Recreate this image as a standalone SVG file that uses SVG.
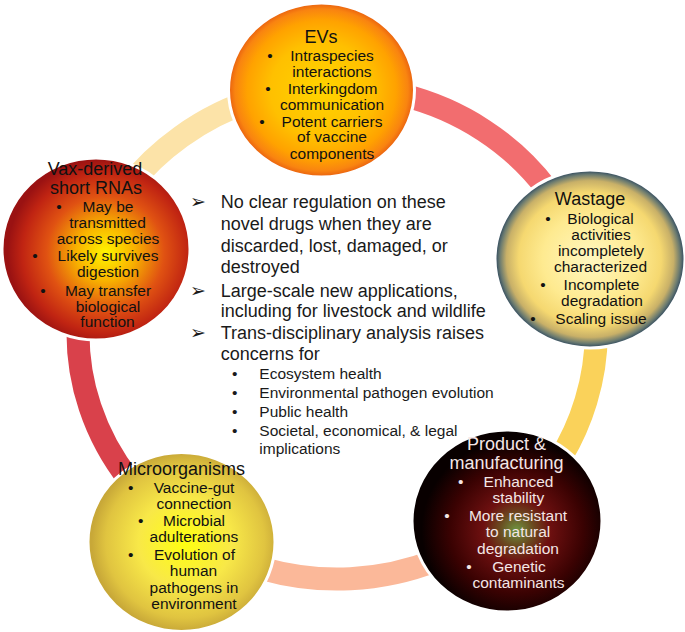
<svg xmlns="http://www.w3.org/2000/svg" width="685" height="632" viewBox="0 0 685 632">
<style>
.bg{fill:#ffffff}
.ring{fill:none;stroke-width:23;stroke-linecap:butt}
.node{stroke:#ffffff;stroke-width:3}
.t{font-family:"Liberation Sans",Arial,sans-serif;font-size:15.5px;fill:#111111;text-anchor:middle}
.h{font-family:"Liberation Sans",Arial,sans-serif;font-size:18px;fill:#111111;text-anchor:middle}
.w{fill:#f4e6e6}
.c{font-family:"Liberation Sans",Arial,sans-serif;font-size:18px;fill:#1a1a1a}
.s{font-family:"Liberation Sans",Arial,sans-serif;font-size:15.5px;fill:#1a1a1a}
.ar{font-family:"DejaVu Sans",sans-serif;font-size:19px;fill:#1a1a1a}
</style>
<defs>
<radialGradient id="gEV" cx="50%" cy="50%" r="50%">
<stop offset="0" stop-color="#FFD400"/>
<stop offset="0.55" stop-color="#FFC000"/>
<stop offset="0.8" stop-color="#FFA200"/>
<stop offset="0.93" stop-color="#F98410"/>
<stop offset="1" stop-color="#E85E10"/>
</radialGradient>
<radialGradient id="gVax" cx="55%" cy="52%" r="52%">
<stop offset="0" stop-color="#FFF500"/>
<stop offset="0.3" stop-color="#F8B200"/>
<stop offset="0.6" stop-color="#E05212"/>
<stop offset="0.85" stop-color="#C02412"/>
<stop offset="1" stop-color="#9A1212"/>
</radialGradient>
<radialGradient id="gWas" cx="50%" cy="50%" r="50%">
<stop offset="0" stop-color="#FFF7C0"/>
<stop offset="0.5" stop-color="#FEEA90"/>
<stop offset="0.75" stop-color="#F5D870"/>
<stop offset="0.88" stop-color="#C8B068"/>
<stop offset="0.95" stop-color="#6A7A70"/>
<stop offset="1" stop-color="#24405C"/>
</radialGradient>
<radialGradient id="gMic" cx="52%" cy="50%" r="50%">
<stop offset="0" stop-color="#FFFF10"/>
<stop offset="0.5" stop-color="#F8E848"/>
<stop offset="0.85" stop-color="#E0C440"/>
<stop offset="1" stop-color="#C8A838"/>
</radialGradient>
<radialGradient id="gPro" cx="55%" cy="55%" r="50%">
<stop offset="0" stop-color="#6E9440"/>
<stop offset="0.18" stop-color="#6A4A20"/>
<stop offset="0.35" stop-color="#6E1010"/>
<stop offset="0.7" stop-color="#3A0202"/>
<stop offset="1" stop-color="#080000"/>
</radialGradient>
</defs>
<rect class="bg" x="0" y="0" width="685" height="632"/>
<g id="connectors">
<path class="ring" stroke="#F26D6F" d="M 318.9 87.6 A 259 246 0 0 1 584.7 261.1"/>
<path class="ring" stroke="#FAD25A" d="M 584.7 261.1 A 259 246 0 0 1 506.9 518.7"/>
<path class="ring" stroke="#FBB899" d="M 506.9 518.7 A 259 246 0 0 1 188.4 534.5"/>
<path class="ring" stroke="#D9414B" d="M 188.4 534.5 A 259 246 0 0 1 93.6 248.9"/>
<path class="ring" stroke="#FCE3A8" d="M 93.6 248.9 A 259 246 0 0 1 318.9 87.6"/>
</g>
<g id="ev">
<ellipse class="node" cx="321.5" cy="90" rx="93" ry="87" fill="url(#gEV)"/>
<text class="h" x="321" y="43">EVs</text>
<text class="t" x="270" y="61">•</text>
<text class="t" x="332" y="61">Intraspecies</text>
<text class="t" x="332" y="77">interactions</text>
<text class="t" x="268" y="93.5">•</text>
<text class="t" x="332.5" y="93.5">Interkingdom</text>
<text class="t" x="332" y="110">communication</text>
<text class="t" x="262" y="126.5">•</text>
<text class="t" x="332" y="126.5">Potent carriers</text>
<text class="t" x="332" y="142">of vaccine</text>
<text class="t" x="332" y="158.5">components</text>
</g>
<g id="vax">
<ellipse class="node" cx="96" cy="249" rx="94" ry="91" fill="url(#gVax)"/>
<text class="h" x="95" y="174.5">Vax-derived</text>
<text class="h" x="96" y="193.5">short RNAs</text>
<text class="t" x="59" y="211.5">•</text>
<text class="t" x="108" y="211.5">May be</text>
<text class="t" x="107.5" y="228">transmitted</text>
<text class="t" x="108" y="244">across species</text>
<text class="t" x="35" y="260.5">•</text>
<text class="t" x="108" y="260.5">Likely survives</text>
<text class="t" x="108" y="276.5">digestion</text>
<text class="t" x="43" y="295.5">•</text>
<text class="t" x="108" y="295.5">May transfer</text>
<text class="t" x="108" y="311.5">biological</text>
<text class="t" x="107.5" y="327">function</text>
</g>
<g id="wastage">
<ellipse class="node" cx="590" cy="259" rx="95" ry="89" fill="url(#gWas)"/>
<text class="h" x="590" y="205">Wastage</text>
<text class="t" x="548" y="224">•</text>
<text class="t" x="600.5" y="224">Biological</text>
<text class="t" x="601" y="239.5">activities</text>
<text class="t" x="601" y="255.5">incompletely</text>
<text class="t" x="600.5" y="271.5">characterized</text>
<text class="t" x="543" y="290">•</text>
<text class="t" x="601.5" y="290">Incomplete</text>
<text class="t" x="602" y="306">degradation</text>
<text class="t" x="533" y="323.5">•</text>
<text class="t" x="601" y="323.5">Scaling issue</text>
</g>
<g id="microorganisms">
<ellipse class="node" cx="181.5" cy="542" rx="93.5" ry="89.5" fill="url(#gMic)"/>
<text class="h" x="181.5" y="474.5">Microorganisms</text>
<text class="t" x="130.7" y="492.5">•</text>
<text class="t" x="194" y="492.5">Vaccine-gut</text>
<text class="t" x="194" y="508.5">connection</text>
<text class="t" x="140.7" y="525.5">•</text>
<text class="t" x="194" y="525.5">Microbial</text>
<text class="t" x="194" y="541.5">adulterations</text>
<text class="t" x="130.7" y="559.5">•</text>
<text class="t" x="194.5" y="559.5">Evolution of</text>
<text class="t" x="193.5" y="576">human</text>
<text class="t" x="194" y="592.5">pathogens in</text>
<text class="t" x="194" y="608.5">environment</text>
</g>
<g id="product">
<ellipse class="node" cx="507" cy="521" rx="95" ry="91" fill="url(#gPro)"/>
<text class="h w" x="506.5" y="450">Product &amp;</text>
<text class="h w" x="506.5" y="469">manufacturing</text>
<text class="t w" x="460.7" y="486.5">•</text>
<text class="t w" x="518.5" y="486.5">Enhanced</text>
<text class="t w" x="518.3" y="503">stability</text>
<text class="t w" x="447" y="521">•</text>
<text class="t w" x="518" y="521">More resistant</text>
<text class="t w" x="518" y="537">to natural</text>
<text class="t w" x="518" y="553.5">degradation</text>
<text class="t w" x="469" y="571.5">•</text>
<text class="t w" x="519" y="571.5">Genetic</text>
<text class="t w" x="518.5" y="587.5">contaminants</text>
</g>
<g id="center-text">
<text class="ar" x="190" y="208">➢</text>
<text class="c" x="220.7" y="208.3">No clear regulation on these</text>
<text class="c" x="220.7" y="230">novel drugs when they are</text>
<text class="c" x="220.7" y="251.7">discarded, lost, damaged, or</text>
<text class="c" x="220.7" y="273.3">destroyed</text>
<text class="ar" x="190" y="296.5">➢</text>
<text class="c" x="220.7" y="296.7">Large-scale new applications,</text>
<text class="c" x="220.7" y="316.7">including for livestock and wildlife</text>
<text class="ar" x="190" y="339">➢</text>
<text class="c" x="220.7" y="339.3">Trans-disciplinary analysis raises</text>
<text class="c" x="220.7" y="360">concerns for</text>
<text class="s" x="232" y="379.3">•</text>
<text class="s" x="259.3" y="379.3">Ecosystem health</text>
<text class="s" x="232" y="398.3">•</text>
<text class="s" x="259.3" y="398.3">Environmental pathogen evolution</text>
<text class="s" x="232" y="416.7">•</text>
<text class="s" x="259.3" y="416.7">Public health</text>
<text class="s" x="232" y="436">•</text>
<text class="s" x="259.3" y="436">Societal, economical, &amp; legal</text>
<text class="s" x="259.3" y="454">implications</text>
</g>
</svg>
